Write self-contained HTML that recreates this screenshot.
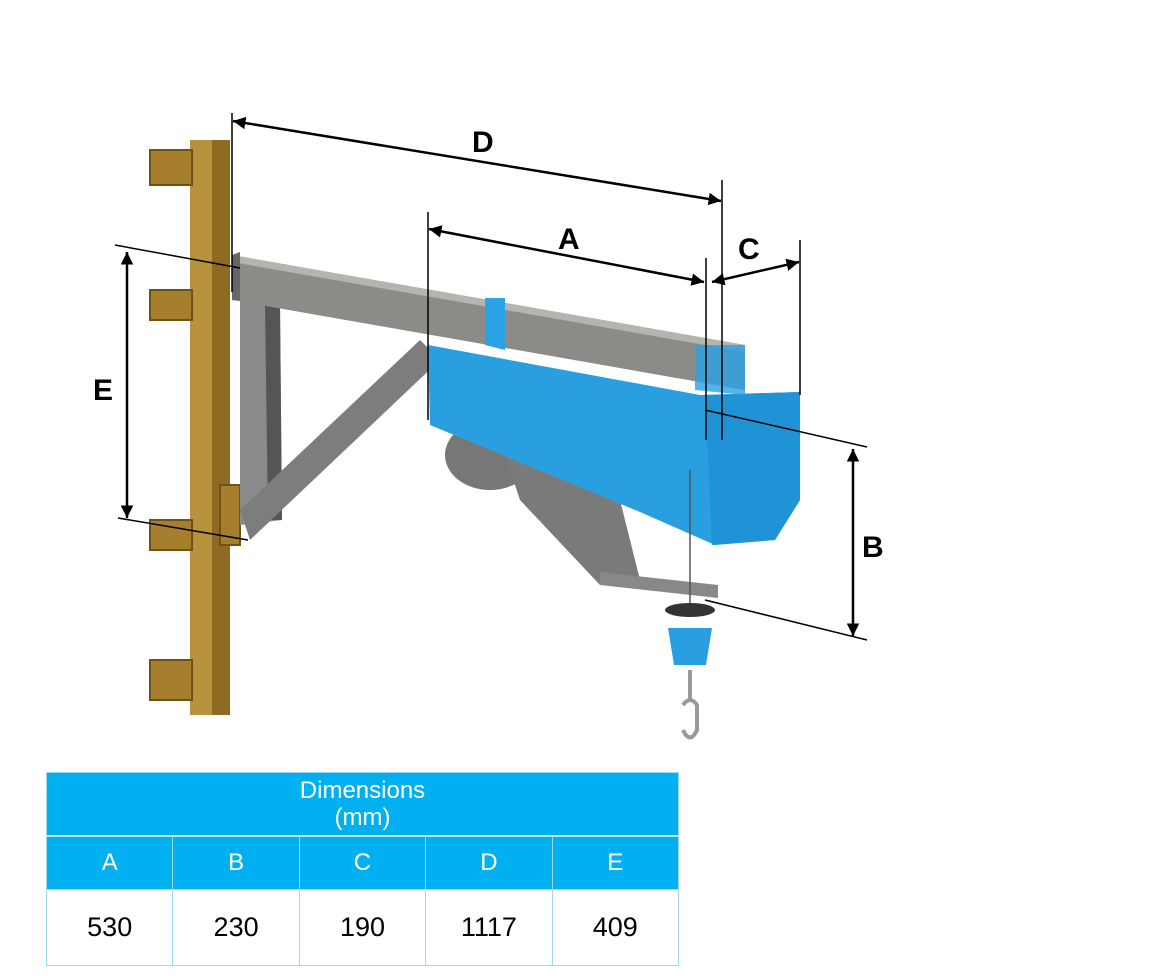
<!DOCTYPE html>
<html><head><style>
body{margin:0;width:1175px;height:976px;background:#fff;overflow:hidden;font-family:"Liberation Sans",sans-serif}
svg{position:absolute;left:0;top:0}
table{position:absolute;left:46px;top:772px;width:633px;border-collapse:collapse;table-layout:fixed;font-family:"Liberation Sans",sans-serif}
td{border:1px solid #9fd8f5;text-align:center;padding:0;box-sizing:border-box}
.h{background:#00b0f0;color:#fff;font-size:24px;line-height:27px;height:63px}
.l td{background:#00b0f0;color:#fff;font-size:24px;height:54px;border-top:2px solid #bfe8fb}
.v td{font-size:27px;height:76px;color:#000}
</style></head><body>
<svg width="1175" height="976" viewBox="0 0 1175 976">
<defs><marker id="ar" viewBox="0 0 10 10" refX="10" refY="5" markerWidth="5" markerHeight="5" orient="auto-start-reverse"><path d="M0,0 L10,5 L0,10 Z" fill="#000"/></marker></defs>
<!-- post -->
<rect x="190" y="140" width="40" height="575" fill="#b8913c"/>
<rect x="212" y="140" width="18" height="575" fill="#8e6a22"/>
<g fill="#a67f2e" stroke="#6e5218" stroke-width="2">
<rect x="150" y="150" width="42" height="35"/><rect x="150" y="290" width="42" height="30"/>
<rect x="150" y="520" width="42" height="30"/><rect x="150" y="660" width="42" height="40"/>
<rect x="220" y="485" width="20" height="60"/></g>
<!-- strut -->
<polygon points="240,300 280,305 282,520 240,525" fill="#8a8a8a"/>
<polygon points="265,305 280,305 282,520 268,520" fill="#555"/>
<polygon points="240,510 420,340 440,360 250,540" fill="#7d7d7d"/>
<!-- beam -->
<polygon points="232,255 745,345 745,390 232,300" fill="#8b8b88"/>
<polygon points="232,255 745,345 745,352 232,262" fill="#b5b5b0"/>
<polygon points="232,255 240,252 240,300 232,300" fill="#666"/>
<!-- motor -->
<ellipse cx="490" cy="455" rx="45" ry="35" fill="#777"/>
<polygon points="500,440 620,500 640,580 600,585 520,500" fill="#7a7a7a"/>
<!-- hoist -->
<polygon points="428,345 700,395 800,392 800,500 775,540 715,545 640,512 430,425" fill="#2a9fe0"/>
<polygon points="705,395 800,392 800,500 775,540 712,545" fill="#1f93d6"/>
<polygon points="485,298 505,298 505,350 485,345" fill="#2aa3e6"/>
<polygon points="695,345 745,345 745,395 695,390" fill="#2aa3e6" opacity=".8"/>
<!-- hook assembly -->
<polygon points="600,572 718,585 718,598 600,585" fill="#888"/>
<line x1="690" y1="470" x2="690" y2="605" stroke="#555" stroke-width="1.5"/>
<ellipse cx="690" cy="610" rx="25" ry="7" fill="#333"/>
<polygon points="668,628 712,628 706,665 674,665" fill="#2a9fe0"/>
<path d="M690 670 L690 700 M683 705 q7 -10 14 0 v25 q-7 15 -14 0" fill="none" stroke="#999" stroke-width="4"/>
<!-- dimension lines -->
<g stroke="#000" stroke-width="1.5" fill="none">
<line x1="232" y1="113" x2="232" y2="292"/><line x1="722" y1="180" x2="722" y2="440"/>
<line x1="428" y1="212" x2="428" y2="420"/><line x1="706" y1="258" x2="706" y2="440"/>
<line x1="800" y1="240" x2="800" y2="395"/>
<line x1="115" y1="245" x2="240" y2="268"/><line x1="118" y1="518" x2="248" y2="540"/>
<line x1="705" y1="410" x2="867" y2="447"/><line x1="705" y1="600" x2="867" y2="640"/>
</g>
<g stroke="#000" stroke-width="2.5" fill="none" marker-start="url(#ar)" marker-end="url(#ar)">
<line x1="233" y1="121" x2="721" y2="201"/>
<line x1="429" y1="229" x2="704" y2="282"/>
<line x1="712" y1="282" x2="799" y2="262"/>
<line x1="127" y1="252" x2="127" y2="518"/>
<line x1="853" y1="449" x2="853" y2="636"/>
</g>
<g font-family="Liberation Sans" font-weight="bold" font-size="30" fill="#000">
<text x="472" y="152">D</text><text x="558" y="249">A</text><text x="738" y="259">C</text>
<text x="93" y="400">E</text><text x="862" y="557">B</text></g>
</svg>
<table>
<tr><td class="h" colspan="5">Dimensions<br>(mm)</td></tr>
<tr class="l"><td>A</td><td>B</td><td>C</td><td>D</td><td>E</td></tr>
<tr class="v"><td>530</td><td>230</td><td>190</td><td>1117</td><td>409</td></tr>
</table>
</body></html>
